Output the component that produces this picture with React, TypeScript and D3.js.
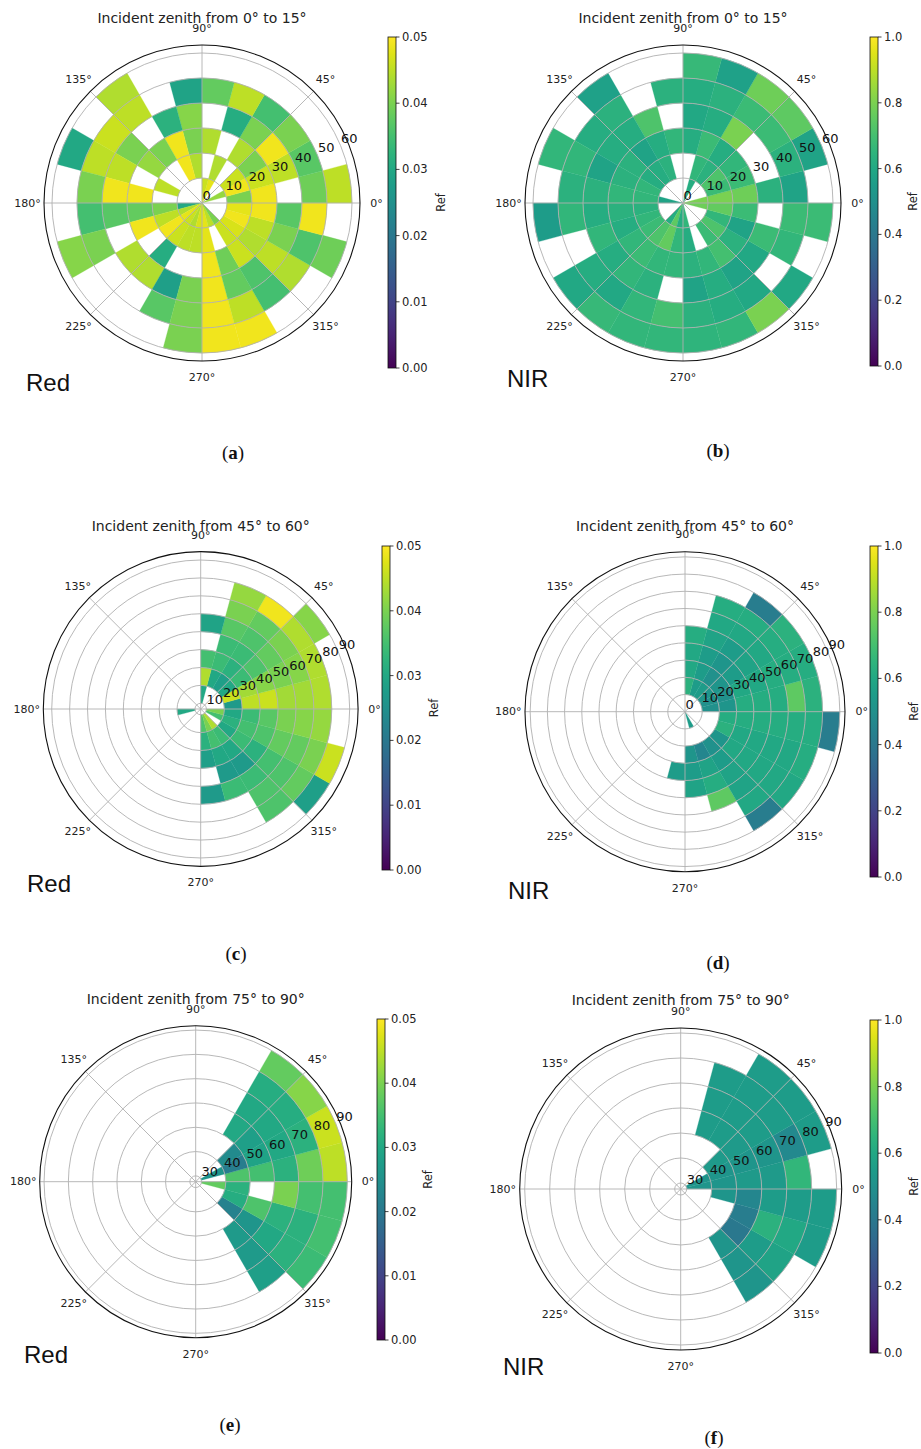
import React from 'react';
import * as d3 from 'd3';

type Cell = number | null;
const _ = null;

// azimuth bins: 24 sectors of 15°, counter-clockwise from 0°
const sectorStarts = d3.range(0, 360, 15);
const SECTOR = 15;

// ---------- (a) Red, incident zenith 0–15° ; rows = rings 0-10 … 50-60, columns = sectors 0°,15°,…,345°
const redA_edges = [0, 10, 20, 30, 40, 50, 60];
const redA: Cell[][] = [
  [_, 0.042, _, _, 0.048, 0.046, _, _, _, _, _, _, 0.03, 0.044, 0.048, 0.046, 0.044, 0.047, 0.048, 0.045, 0.04, _, _, _],
  [0.04, 0.049, 0.046, _, 0.044, _, 0.044, 0.049, _, _, 0.045, _, 0.04, 0.045, 0.049, 0.046, 0.045, 0.045, 0.048, _, 0.046, 0.047, 0.049, 0.048],
  [0.049, 0.046, 0.04, 0.044, _, 0.044, 0.04, 0.049, 0.04, 0.042, _, 0.049, 0.038, 0.049, _, 0.031, _, _, 0.049, 0.039, 0.046, 0.044, 0.045, 0.049],
  [_, 0.045, 0.049, 0.04, 0.031, _, 0.041, 0.032, _, 0.04, 0.045, 0.049, 0.037, _, 0.044, 0.044, 0.028, 0.04, 0.049, 0.038, 0.036, 0.045, 0.04, 0.037],
  [0.039, 0.037, 0.04, 0.035, 0.045, 0.038, 0.029, _, 0.045, 0.046, 0.045, 0.04, 0.035, 0.04, _, _, 0.037, 0.04, 0.049, 0.045, 0.035, 0.044, 0.036, 0.049],
  [0.045, _, _, _, _, _, _, _, 0.044, _, 0.03, _, _, 0.041, _, _, _, 0.04, 0.049, 0.049, _, _, 0.039, _],
];

// ---------- (b) NIR, incident zenith 0–15°
const nirB_edges = [0, 10, 20, 30, 40, 50, 60];
const nirB: Cell[][] = [
  [0.8, _, _, _, 0.62, _, _, _, _, _, _, 0.58, _, _, _, 0.62, 0.75, 0.62, 0.66, _, _, _, _, 0.78],
  [0.8, 0.68, 0.72, 0.64, 0.66, _, _, 0.64, 0.62, 0.62, 0.66, 0.66, 0.64, 0.66, 0.68, 0.72, 0.76, 0.66, 0.62, _, 0.68, 0.72, 0.66, 0.76],
  [0.78, 0.68, 0.66, 0.62, 0.68, 0.62, 0.66, 0.62, 0.58, 0.64, 0.64, 0.66, 0.64, 0.62, 0.66, 0.68, 0.66, 0.66, 0.64, 0.66, 0.7, 0.64, 0.58, 0.68],
  [0.64, _, _, 0.8, 0.62, 0.6, _, 0.72, 0.62, 0.62, 0.58, 0.64, 0.62, 0.66, 0.62, 0.66, 0.64, _, 0.58, 0.62, 0.58, 0.6, 0.68, _],
  [0.58, 0.64, 0.68, 0.68, 0.64, 0.62, 0.64, _, 0.64, 0.62, 0.66, 0.64, 0.66, _, 0.62, 0.6, 0.66, 0.7, 0.64, 0.62, 0.6, _, 0.66, 0.68],
  [_, 0.58, 0.75, 0.78, 0.57, 0.67, _, _, 0.57, _, 0.66, _, 0.55, _, 0.6, 0.67, 0.66, 0.66, 0.65, 0.66, 0.8, 0.6, _, 0.68],
];

// ---------- (c) Red, incident zenith 45–60° ; rings 10-20 … 80-90
const redC_edges = [10, 20, 30, 40, 50, 60, 70, 80, 90];
const redC: Cell[][] = [
  [_, _, _, _, _, 0.03, _, _, _, _, _, _, 0.03, _, _, _, _, _, 0.036, 0.04, 0.044, _, 0.035, 0.04],
  [0.027, 0.046, 0.03, 0.028, 0.03, 0.044, _, _, _, _, _, _, _, _, _, _, _, _, 0.032, 0.035, 0.034, 0.03, 0.032, 0.03],
  [0.045, 0.043, 0.034, 0.032, 0.034, 0.035, _, _, _, _, _, _, _, _, _, _, _, _, 0.028, 0.03, 0.03, 0.034, 0.035, 0.034],
  [0.046, 0.041, 0.036, 0.034, 0.034, _, _, _, _, _, _, _, _, _, _, _, _, _, _, 0.027, 0.027, 0.032, 0.036, 0.037],
  [0.043, 0.04, 0.038, 0.036, 0.037, 0.029, _, _, _, _, _, _, _, _, _, _, _, _, 0.027, 0.034, 0.034, 0.035, 0.038, 0.04],
  [0.043, 0.041, 0.04, 0.038, 0.04, _, _, _, _, _, _, _, _, _, _, _, _, _, _, _, 0.036, 0.036, 0.038, 0.041],
  [0.044, 0.044, 0.044, 0.049, 0.042, _, _, _, _, _, _, _, _, _, _, _, _, _, _, _, 0.036, 0.038, 0.04, 0.042],
  [_, _, 0.041, _, _, _, _, _, _, _, _, _, _, _, _, _, _, _, _, _, _, 0.028, 0.046, _],
];

// ---------- (d) NIR, incident zenith 45–60° ; rings 0-10 … 80-90
const nirD_edges = [0, 10, 20, 30, 40, 50, 60, 70, 80, 90];
const nirD: Cell[][] = [
  [_, _, _, _, _, _, _, _, _, _, _, _, _, _, _, _, _, _, _, 0.55, _, _, _, _],
  [0.5, 0.5, 0.52, 0.55, 0.55, 0.64, _, _, _, _, _, _, _, _, _, _, _, _, _, _, _, _, _, _],
  [0.52, 0.5, 0.52, 0.5, 0.55, 0.6, _, _, _, _, _, _, _, _, _, _, _, _, 0.52, 0.46, 0.5, 0.52, 0.64, 0.62],
  [0.62, 0.6, 0.55, 0.52, 0.55, 0.6, _, _, _, _, _, _, _, _, _, _, _, 0.55, 0.55, 0.58, 0.55, 0.6, 0.6, 0.62],
  [0.62, 0.6, 0.58, 0.55, 0.58, 0.62, _, _, _, _, _, _, _, _, _, _, _, _, 0.58, 0.62, 0.58, 0.6, 0.6, 0.62],
  [0.62, 0.62, 0.6, 0.6, 0.6, _, _, _, _, _, _, _, _, _, _, _, _, _, _, 0.75, 0.58, 0.6, 0.6, 0.62],
  [0.75, 0.62, 0.62, 0.62, 0.62, _, _, _, _, _, _, _, _, _, _, _, _, _, _, _, 0.6, 0.6, 0.6, 0.62],
  [0.64, 0.62, 0.64, 0.42, _, _, _, _, _, _, _, _, _, _, _, _, _, _, _, _, 0.42, 0.6, 0.62, 0.62],
  [_, _, _, _, _, _, _, _, _, _, _, _, _, _, _, _, _, _, _, _, _, _, _, 0.42],
];

// ---------- (e) Red, incident zenith 75–90° ; rings 30-40 … 80-90
const redE_edges = [30, 40, 50, 60, 70, 80, 90];
const redE: Cell[][] = [
  [_, 0.026, _, _, _, _, _, _, _, _, _, _, _, _, _, _, _, _, _, _, _, _, _, 0.038],
  [0.036, 0.021, 0.024, _, _, _, _, _, _, _, _, _, _, _, _, _, _, _, _, _, _, 0.022, 0.031, 0.032],
  [0.035, 0.029, 0.028, 0.03, _, _, _, _, _, _, _, _, _, _, _, _, _, _, _, _, 0.027, 0.026, 0.036, _],
  [0.032, 0.03, 0.03, 0.03, _, _, _, _, _, _, _, _, _, _, _, _, _, _, _, _, 0.027, 0.03, 0.032, 0.04],
  [0.039, 0.032, 0.031, 0.031, _, _, _, _, _, _, _, _, _, _, _, _, _, _, _, _, 0.028, 0.032, 0.032, 0.035],
  [0.045, 0.046, 0.041, 0.038, _, _, _, _, _, _, _, _, _, _, _, _, _, _, _, _, _, 0.034, 0.035, 0.035],
];

// ---------- (f) NIR, incident zenith 75–90° ; rings 30-40 … 80-90
const nirF_edges = [30, 40, 50, 60, 70, 80, 90];
const nirF: Cell[][] = [
  [0.52, 0.52, _, _, _, _, _, _, _, _, _, _, _, _, _, _, _, _, _, _, _, _, _, _],
  [0.52, 0.52, 0.54, _, _, _, _, _, _, _, _, _, _, _, _, _, _, _, _, _, _, _, _, 0.52],
  [0.54, 0.52, 0.54, 0.55, 0.55, _, _, _, _, _, _, _, _, _, _, _, _, _, _, _, 0.52, 0.4, 0.42, 0.46],
  [0.54, 0.52, 0.55, 0.55, 0.55, _, _, _, _, _, _, _, _, _, _, _, _, _, _, _, 0.52, 0.55, 0.64, 0.55],
  [0.66, 0.47, 0.55, 0.55, 0.55, _, _, _, _, _, _, _, _, _, _, _, _, _, _, _, 0.52, 0.58, 0.6, 0.55],
  [_, 0.55, 0.55, 0.55, _, _, _, _, _, _, _, _, _, _, _, _, _, _, _, _, _, _, 0.55, 0.55],
];

const redTicks = [0, 0.01, 0.02, 0.03, 0.04, 0.05];
const nirTicks = [0, 0.2, 0.4, 0.6, 0.8, 1.0];
const angleTicks = [0, 45, 90, 135, 180, 225, 270, 315];

type Panel = {
  key: string; title: string; band: string; data: Cell[][]; edges: number[];
  vmax: number; cbTicks: number[]; cbFmt: (v: number) => string;
  rTicks: number[]; rMin: number; rMax: number;
  cx: number; cy: number; R: number; titleY: number;
  cbX: number; cbTop: number; cbBot: number; refX: number;
  bandX: number; bandY: number; capX: number; capY: number;
};

const fmt2 = d3.format('.2f');
const fmt1 = d3.format('.1f');

const panels: Panel[] = [
  { key: 'a', title: 'Incident zenith from 0° to 15°', band: 'Red', data: redA, edges: redA_edges, vmax: 0.05, cbTicks: redTicks, cbFmt: fmt2,
    rTicks: [0, 10, 20, 30, 40, 50, 60], rMin: 0, rMax: 63.2,
    cx: 202, cy: 203, R: 158, titleY: 18, cbX: 388, cbTop: 37, cbBot: 368, refX: 441, bandX: 26, bandY: 382, capX: 233, capY: 452 },
  { key: 'b', title: 'Incident zenith from 0° to 15°', band: 'NIR', data: nirB, edges: nirB_edges, vmax: 1, cbTicks: nirTicks, cbFmt: fmt1,
    rTicks: [0, 10, 20, 30, 40, 50, 60], rMin: 0, rMax: 63.2,
    cx: 683, cy: 203, R: 158, titleY: 18, cbX: 870, cbTop: 37, cbBot: 366, refX: 913, bandX: 507, bandY: 378, capX: 718, capY: 450 },
  { key: 'c', title: 'Incident zenith from 45° to 60°', band: 'Red', data: redC, edges: redC_edges, vmax: 0.05, cbTicks: redTicks, cbFmt: fmt2,
    rTicks: [10, 20, 30, 40, 50, 60, 70, 80, 90], rMin: 6.8, rMax: 94.7,
    cx: 200.7, cy: 709, R: 157.4, titleY: 526, cbX: 382, cbTop: 546, cbBot: 870, refX: 434, bandX: 27, bandY: 883, capX: 236, capY: 953 },
  { key: 'd', title: 'Incident zenith from 45° to 60°', band: 'NIR', data: nirD, edges: nirD_edges, vmax: 1, cbTicks: nirTicks, cbFmt: fmt1,
    rTicks: [0, 10, 20, 30, 40, 50, 60, 70, 80, 90], rMin: 0, rMax: 93,
    cx: 685, cy: 711.7, R: 160, titleY: 526, cbX: 870, cbTop: 546, cbBot: 877, refX: 914, bandX: 508, bandY: 890, capX: 718, capY: 962 },
  { key: 'e', title: 'Incident zenith from 75° to 90°', band: 'Red', data: redE, edges: redE_edges, vmax: 0.05, cbTicks: redTicks, cbFmt: fmt2,
    rTicks: [30, 40, 50, 60, 70, 80, 90], rMin: 27.6, rMax: 91.8,
    cx: 195.7, cy: 1181.7, R: 156, titleY: 999, cbX: 377, cbTop: 1019, cbBot: 1340, refX: 428, bandX: 24, bandY: 1354, capX: 230, capY: 1424 },
  { key: 'f', title: 'Incident zenith from 75° to 90°', band: 'NIR', data: nirF, edges: nirF_edges, vmax: 1, cbTicks: nirTicks, cbFmt: fmt1,
    rTicks: [30, 40, 50, 60, 70, 80, 90], rMin: 27.6, rMax: 92,
    cx: 680.7, cy: 1189, R: 161, titleY: 1000, cbX: 870, cbTop: 1020, cbBot: 1353, refX: 914, bandX: 503, bandY: 1366, capX: 714, capY: 1437 },
];

const MPL = "'DejaVu Sans', sans-serif";
const GRID = '#b0b0b0';
const rad = (deg: number) => (deg * Math.PI) / 180;

function PolarPanel({ p }: { p: Panel }) {
  const rs = d3.scaleLinear().domain([p.rMin, p.rMax]).range([0, p.R]);
  const color = d3.scaleSequential(d3.interpolateViridis).domain([0, p.vmax]);
  const arc = d3.arc<any>();
  const cells: React.ReactElement[] = [];
  p.data.forEach((row, ri) => {
    const r0 = Math.max(p.edges[ri], p.rMin);
    const r1 = p.edges[ri + 1];
    row.forEach((v, si) => {
      if (v == null) return;
      const t0 = sectorStarts[si];
      const t1 = t0 + SECTOR;
      const d = arc({ innerRadius: rs(r0), outerRadius: rs(r1), startAngle: rad(90 - t1), endAngle: rad(90 - t0) });
      const c = color(v);
      cells.push(<path key={`${ri}-${si}`} d={d || ''} fill={c} stroke={c} strokeWidth={0.3} />);
    });
  });
  const gradId = `vir-${p.key}`;
  const stops = d3.range(0, 1.0001, 0.05);
  const cbScale = d3.scaleLinear().domain([0, p.vmax]).range([p.cbBot, p.cbTop]);
  const cbW = 8;
  const labR = p.R * 1.105;
  return (
    <g>
      <text x={p.cx} y={p.titleY} textAnchor="middle" dominantBaseline="central" fontFamily={MPL} fontSize={14} fill="#222">{p.title}</text>
      <circle cx={p.cx} cy={p.cy} r={p.R} fill="white" />
      <g transform={`translate(${p.cx},${p.cy})`}>
        {cells}
        {p.rTicks.map((t) => (rs(t) > 0.5 ? <circle key={`g${t}`} r={rs(t)} fill="none" stroke={GRID} strokeWidth={0.9} /> : null))}
        {angleTicks.map((a) => (
          <line key={`s${a}`} x1={0} y1={0} x2={p.R * Math.cos(rad(a))} y2={-p.R * Math.sin(rad(a))} stroke={GRID} strokeWidth={0.9} />
        ))}
        <circle r={p.R} fill="none" stroke="#111" strokeWidth={1.1} />
        {angleTicks.map((a) => (
          <text key={`al${a}`} x={labR * Math.cos(rad(a))} y={-labR * Math.sin(rad(a))} textAnchor="middle" dominantBaseline="central" fontFamily={MPL} fontSize={11} fill="#222">{`${a}°`}</text>
        ))}
        {p.rTicks.map((t) => {
          const r = rs(t);
          return (
            <text key={`rl${t}`} x={r * Math.cos(rad(22.5)) + 0.5} y={-r * Math.sin(rad(22.5)) - 3} textAnchor="start" fontFamily={MPL} fontSize={13} fill="#111">{t}</text>
          );
        })}
      </g>
      <defs>
        <linearGradient id={gradId} x1="0" y1="1" x2="0" y2="0">
          {stops.map((s) => <stop key={s} offset={s} stopColor={d3.interpolateViridis(s)} />)}
        </linearGradient>
      </defs>
      <rect x={p.cbX} y={p.cbTop} width={cbW} height={p.cbBot - p.cbTop} fill={`url(#${gradId})`} stroke="#111" strokeWidth={0.8} />
      {p.cbTicks.map((t) => (
        <g key={`cb${t}`}>
          <line x1={p.cbX + cbW} x2={p.cbX + cbW + 3.5} y1={cbScale(t)} y2={cbScale(t)} stroke="#111" strokeWidth={0.8} />
          <text x={p.cbX + cbW + 6} y={cbScale(t)} dominantBaseline="central" fontFamily={MPL} fontSize={11.5} fill="#222">{p.cbFmt(t)}</text>
        </g>
      ))}
      <text transform={`translate(${p.refX},${(p.cbTop + p.cbBot) / 2}) rotate(-90)`} textAnchor="middle" dominantBaseline="central" fontFamily={MPL} fontSize={11.5} fill="#222">Ref</text>
      <text x={p.bandX} y={p.bandY} dominantBaseline="central" fontFamily="'Liberation Sans', Arial, sans-serif" fontSize={24} fill="#111">{p.band}</text>
      <text x={p.capX} y={p.capY} textAnchor="middle" dominantBaseline="central" fontFamily="'Liberation Serif', serif" fontSize={19} fill="#111">(<tspan fontWeight="bold">{p.key}</tspan>)</text>
    </g>
  );
}

export default function App() {
  return (
    <svg width={921} height={1449} viewBox="0 0 921 1449" style={{ position: 'absolute', left: 0, top: 0, background: 'white' }}>
      <rect width={921} height={1449} fill="white" />
      {panels.map((p) => <PolarPanel key={p.key} p={p} />)}
    </svg>
  );
}
